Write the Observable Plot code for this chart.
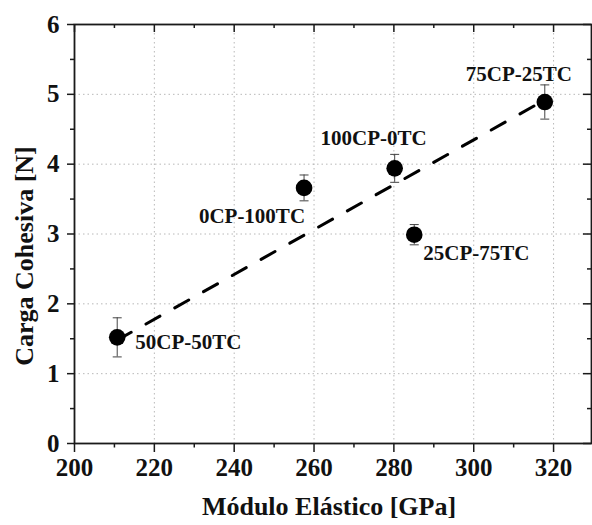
<!DOCTYPE html>
<html><head><meta charset="utf-8">
<script src="https://cdn.jsdelivr.net/npm/d3@7"></script>
<script src="https://cdn.jsdelivr.net/npm/@observablehq/plot@0.6"></script>
<style>html,body{margin:0;padding:0;background:#fff}svg{display:block}</style>
</head><body><div id="chart"></div>
<script>
// ---- data ----
const samples = ["100CP-0TC", "75CP-25TC", "50CP-50TC", "25CP-75TC", "0CP-100TC"];
const modulus = [280.2, 317.8, 210.7, 285.1, 257.5];      // Módulo Elástico [GPa]
const load    = [3.94, 4.89, 1.52, 2.99, 3.66];           // Carga Cohesiva [N]
const loadErr = [0.20, 0.245, 0.28, 0.145, 0.185];        // error bar half-height
const fitX = [210.7, 317.8];                              // dashed trend line
const fitY = [1.48, 4.92];
const xTicks = [200, 220, 240, 260, 280, 300, 320];
const xMinorTicks = [210, 230, 250, 270, 290, 310];
const yTicks = [0, 1, 2, 3, 4, 5, 6];
const yMinorTicks = [0.5, 1.5, 2.5, 3.5, 4.5, 5.5];
const xTitle = "Módulo Elástico [GPa]";
const yTitle = "Carga Cohesiva [N]";

// ---- layout / style ----
const W = 592, H = 525, mL = 74, mR = 1, mT = 24, mB = 82;
const plotW = W - mL - mR, plotH = H - mT - mB;
const font = "'Liberation Serif', 'Times New Roman', serif";
const axisColor = "#1a1a1a";
const labelPlacement = {
  "100CP-0TC": {textAnchor: "middle", dx: -21, dy: -30},
  "75CP-25TC": {textAnchor: "middle", dx: -26, dy: -28},
  "50CP-50TC": {textAnchor: "start", dx: 18, dy: 5},
  "25CP-75TC": {textAnchor: "start", dx: 9, dy: 19},
  "0CP-100TC": {textAnchor: "end", dx: 1, dy: 28}
};
const idx = samples.map((_, i) => i);
const capSymbol = {draw(ctx) { ctx.moveTo(-4.5, 0); ctx.lineTo(4.5, 0); }};
const textOpts = {fontFamily: font, fontWeight: "bold", fill: "#111"};

const chart = Plot.plot({
  width: W, height: H,
  marginLeft: mL, marginRight: mR, marginTop: mT, marginBottom: mB,
  x: {domain: [200, 329.5]},
  y: {domain: [0, 6]},
  style: {fontFamily: font, fontWeight: "bold", background: "#fff", color: axisColor},
  marks: [
    // dotted grid
    Plot.gridX(xTicks.slice(1), {stroke: "#9a9a9a", strokeOpacity: 0.7, strokeDasharray: "1.5,3", strokeWidth: 1}),
    Plot.gridY(yTicks.slice(1, -1), {stroke: "#9a9a9a", strokeOpacity: 0.7, strokeDasharray: "1.5,3", strokeWidth: 1}),
    // axes
    Plot.axisX(xTicks, {tickSize: 9, tickPadding: 6, fontSize: 25, tickFormat: "d", label: null, strokeWidth: 1.5, ...textOpts}),
    Plot.axisY(yTicks, {tickSize: 7, tickPadding: 8, fontSize: 25, tickFormat: "d", label: null, strokeWidth: 1.5, ...textOpts}),
    Plot.ruleX(xMinorTicks, {insetTop: plotH, insetBottom: -4.5, stroke: axisColor, strokeWidth: 1.5}),
    Plot.ruleY(yMinorTicks, {insetRight: plotW, insetLeft: -4, stroke: axisColor, strokeWidth: 1.5}),
    // mirrored inward ticks top / right
    Plot.ruleX(xTicks, {insetBottom: plotH - 8, stroke: axisColor, strokeWidth: 1.5}),
    Plot.ruleX(xMinorTicks, {insetBottom: plotH - 4, stroke: axisColor, strokeWidth: 1.5}),
    Plot.ruleY(yTicks, {insetLeft: plotW - 8, stroke: axisColor, strokeWidth: 1.5}),
    Plot.ruleY(yMinorTicks, {insetLeft: plotW - 4, stroke: axisColor, strokeWidth: 1.5}),
    Plot.frame({stroke: axisColor, strokeWidth: 1.8}),
    // axis titles
    Plot.text([xTitle], {frameAnchor: "bottom", textAnchor: "middle", lineAnchor: "middle", dx: -4, dy: 63, fontSize: 26, ...textOpts}),
    Plot.text([yTitle], {frameAnchor: "left", textAnchor: "middle", lineAnchor: "middle", dx: -50, dy: 22, rotate: -90, fontSize: 26, ...textOpts}),
    // dashed fit line
    Plot.line(fitX.map((x, i) => i), {x: i => fitX[i], y: i => fitY[i], stroke: "#000", strokeWidth: 3, strokeDasharray: "16,17"}),
    // error bars
    Plot.ruleX(idx, {x: i => modulus[i], y1: i => load[i] - loadErr[i], y2: i => load[i] + loadErr[i], stroke: "#444", strokeWidth: 1}),
    Plot.dot(idx, {x: i => modulus[i], y: i => load[i] + loadErr[i], symbol: capSymbol, r: 4, stroke: "#444", fill: "none", strokeWidth: 1}),
    Plot.dot(idx, {x: i => modulus[i], y: i => load[i] - loadErr[i], symbol: capSymbol, r: 4, stroke: "#444", fill: "none", strokeWidth: 1}),
    // points
    Plot.dot(idx, {x: i => modulus[i], y: i => load[i], r: 8.3, fill: "#000", stroke: "none"}),
    // labels
    ...idx.map(i => Plot.text([i], {
      x: j => modulus[j], y: j => load[j], text: j => samples[j],
      fontSize: 21, ...labelPlacement[samples[i]], ...textOpts
    }))
  ]
});
document.getElementById("chart").appendChild(chart);
</script>
</body></html>
